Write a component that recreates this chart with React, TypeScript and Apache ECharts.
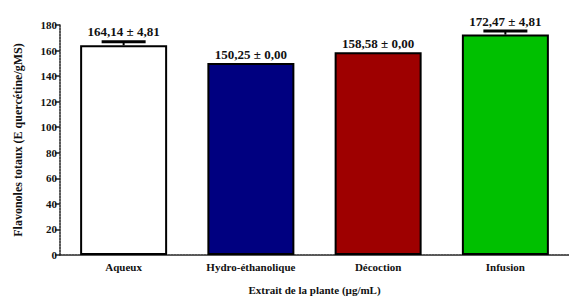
import React, { useEffect, useRef } from "react";
import * as echarts from "echarts";

const categories = ["Aqueux", "Hydro-éthanolique", "Décoction", "Infusion"];
const values = [164.14, 150.25, 158.58, 172.47];
// error bar heights as drawn in the picture (caps sit ~2.8 units above the bars)
const errorBars = [2.78, 0.0, 0.0, 2.78];
const labels = ["164,14 ± 4,81", "150,25 ± 0,00", "158,58 ± 0,00", "172,47 ± 4,81"];
const colors = ["#ffffff", "#000080", "#9e0000", "#00c000"];
const yTicks = { min: 0, max: 180, interval: 20 };

const FONT = "Liberation Serif";

export default function App() {
  const ref = useRef<HTMLDivElement>(null);
  useEffect(() => {
    document.body.style.margin = "0";
    const chart = echarts.init(ref.current!, null, { renderer: "svg" });
    chart.setOption({
      animation: false,
      textStyle: { fontFamily: FONT },
      grid: { left: 60, top: 25, width: 521, height: 232 },
      xAxis: {
        type: "category",
        data: categories,
        name: "Extrait de la plante (µg/mL)",
        nameLocation: "middle",
        nameGap: 29,
        nameTextStyle: { fontFamily: FONT, fontWeight: "bold", fontSize: 11, color: "#111" },
        axisLine: { lineStyle: { color: "#222", width: 1.5, type: [2, 1] } },
        axisTick: { alignWithLabel: true, length: 4, lineStyle: { color: "#222", width: 1.5 } },
        axisLabel: { fontFamily: FONT, fontWeight: "bold", fontSize: 11, color: "#111", margin: 6 },
      },
      yAxis: {
        type: "value",
        min: yTicks.min,
        max: yTicks.max,
        interval: yTicks.interval,
        name: "Flavonoles totaux (E quercétine/gMS)",
        nameLocation: "middle",
        nameGap: 36,
        nameTextStyle: { fontFamily: FONT, fontWeight: "bold", fontSize: 12, color: "#111" },
        axisLine: { show: true, lineStyle: { color: "#222", width: 1.5, type: [2, 1] } },
        axisTick: { show: true, length: 5, lineStyle: { color: "#222", width: 1.5 } },
        axisLabel: { fontFamily: FONT, fontWeight: "bold", fontSize: 11, color: "#111", margin: 3 },
        splitLine: { show: false },
      },
      series: [
        {
          type: "bar",
          barWidth: 87,
          data: values.map((v, i) => ({
            value: v,
            itemStyle: { color: colors[i], borderColor: "#000", borderWidth: 2 },
          })),
          z: 2,
        },
        {
          type: "custom",
          z: 3,
          data: values.map((v, i) => [i, v, errorBars[i]]),
          renderItem: (params: any, api: any) => {
            const i = params.dataIndex;
            const err = api.value(2);
            const base = api.coord([api.value(0), api.value(1)]);
            const top = api.coord([api.value(0), api.value(1) + err]);
            const half = 22;
            const children: any[] = [];
            if (err) {
              children.push(
                {
                  type: "line",
                  shape: { x1: base[0], y1: base[1], x2: top[0], y2: top[1] },
                  style: { stroke: "#000", lineWidth: 2 },
                },
                {
                  type: "line",
                  shape: { x1: top[0] - half, y1: top[1], x2: top[0] + half, y2: top[1] },
                  style: { stroke: "#000", lineWidth: 3 },
                }
              );
            }
            children.push({
              type: "text",
              x: top[0],
              y: top[1] - (err ? 3.5 : 2),
              style: {
                text: labels[i],
                textAlign: "center",
                textVerticalAlign: "bottom",
                fontFamily: FONT,
                fontWeight: "bold",
                fontSize: 13,
                fill: "#111",
              },
            });
            return { type: "group", children };
          },
        },
      ],
    });
    return () => chart.dispose();
  }, []);
  return <div ref={ref} style={{ width: 569, height: 300 }} />;
}
